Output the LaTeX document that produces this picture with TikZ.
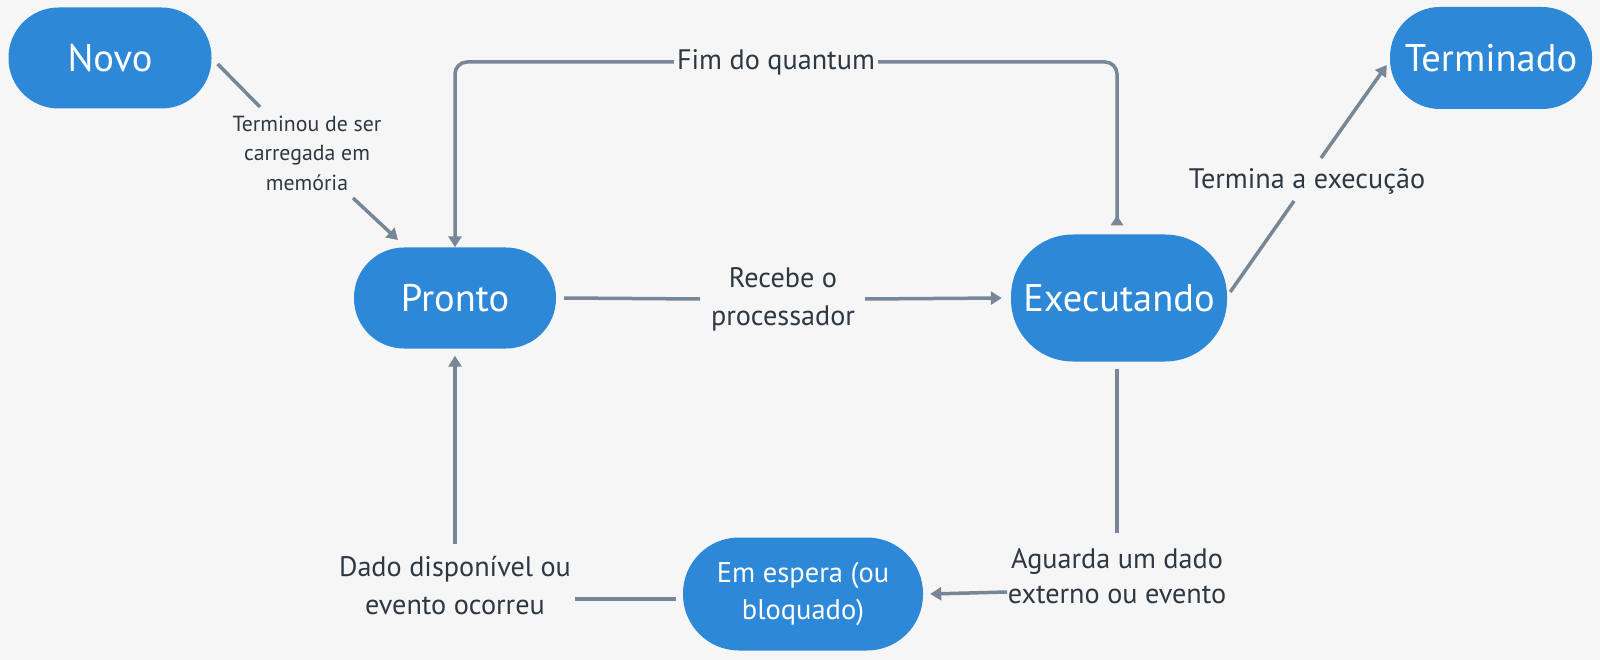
\documentclass[tikz,border=0pt]{standalone}
\usepackage{fontspec}
\setmainfont{PT Sans}
\usetikzlibrary{arrows.meta,calc}
\definecolor{bgc}{RGB}{246,246,246}
\definecolor{nodeblue}{RGB}{45,136,216}
\definecolor{linec}{RGB}{120,135,150}
\definecolor{labtext}{RGB}{46,56,66}
\begin{document}
\begin{tikzpicture}[x=1pt,y=-1pt,
  stadium/.style={fill=nodeblue,text=white,inner sep=0pt,align=center},
  bigtxt/.style={font=\fontsize{38.5}{46}\selectfont},
  lbl/.style={text=labtext,inner xsep=3pt,inner ysep=2pt,align=center,font=\fontsize{28.2}{38}\selectfont},
  conn/.style={draw=linec,line width=3.5pt},
  tip/.style={-{Triangle[length=11pt,width=13pt]}}
]
\fill[bgc] (0,0) rectangle (1600,660);
\useasboundingbox (0,0) rectangle (1600,660);

% states
\node[stadium,bigtxt,minimum width=203pt,minimum height=101pt,rounded corners=50pt] (novo) at (110,58) {Novo};
\node[stadium,bigtxt,minimum width=202pt,minimum height=102pt,rounded corners=50pt] (term) at (1491,58) {Terminado};
\node[stadium,bigtxt,minimum width=202pt,minimum height=101pt,rounded corners=50pt] (pronto) at (455,298) {Pronto};
\node[stadium,bigtxt,minimum width=216pt,minimum height=127pt,rounded corners=62pt] (exec) at (1119,298) {Executando};
\node[stadium,font=\fontsize{28.5}{37}\selectfont,minimum width=240pt,minimum height=113pt,rounded corners=56pt] (espera) at (803,594) {Em espera (ou\\bloquado)};

% labels
\node[lbl,font=\fontsize{21.8}{29.5}\selectfont] (lnovo) at (307,153) {Terminou de ser\\carregada em\\memória};
\node[lbl] (lquant) at (776,62) {Fim do quantum};
\node[lbl] (lrec) at (783,299) {Recebe o\\processador};
\node[lbl] (lterm) at (1307,181) {Termina a execução};
\node[lbl,font=\fontsize{28.2}{35}\selectfont] (lagu) at (1117,576) {Aguarda um dado\\externo ou evento};
\node[lbl] (ldado) at (455,586) {Dado disponível ou\\evento ocorreu};

% connectors
\draw[conn] ([shift={(6,6)}]novo.east) -- ([shift={(-47,-46)}]lnovo.center);
\draw[conn,tip] ([shift={(46,45)}]lnovo.center) -- ([shift={(-57,-58)}]pronto.center);

\draw[conn,rounded corners=12pt,{Triangle[reversed,length=10pt,width=12pt]}-] ([shift={(-2,-9)}]exec.north) |- (lquant.east);
\draw[conn,rounded corners=12pt,tip] (lquant.west) -| (pronto.north);

\draw[conn] ([shift={(8,0)}]pronto.east) -- ([shift={(-83,0)}]lrec.center);
\draw[conn,tip] ([shift={(82,0)}]lrec.center) -- ([shift={(-9,0)}]exec.west);

\draw[conn] ([shift={(3,-6)}]exec.east) -- ([shift={(-13,20)}]lterm.center);
\draw[conn,tip] ([shift={(14,-23)}]lterm.center) -- ([shift={(-3,7)}]term.west);

\draw[conn] ([shift={(-2,7)}]exec.south) -- ([shift={(0,-43)}]lagu.center);
\draw[conn,tip] ([shift={(-110,16)}]lagu.center) -- ([shift={(7,0)}]espera.east);

\draw[conn] ([shift={(-7,5)}]espera.west) -- ([shift={(120,13)}]ldado.center);
\draw[conn,tip] ([shift={(0,-42)}]ldado.center) -- ([shift={(0,7)}]pronto.south);
\end{tikzpicture}
\end{document}
